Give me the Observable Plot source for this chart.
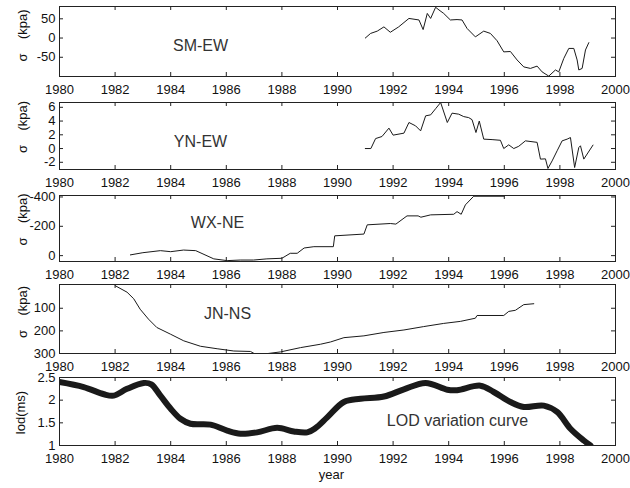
<!DOCTYPE html>
<html><head><meta charset="utf-8">
<script src="https://cdn.jsdelivr.net/npm/d3@7"></script>
<script src="https://cdn.jsdelivr.net/npm/@observablehq/plot@0.6"></script>
<style>
body{margin:0;background:#fff;}
#chart{position:relative;width:630px;height:488px;background:#fff;overflow:hidden;}
#chart svg{position:absolute;left:0;}
</style></head><body><div id="chart"></div>
<script>
const xTicks = [1980,1982,1984,1986,1988,1990,1992,1994,1996,1998,2000];

const smLabel = "SM-EW";
const smYears = [1991.0,1991.19,1991.43,1991.67,1991.9,1992.2,1992.57,1992.93,1993.08,1993.23,1993.35,1993.53,1993.65,1993.82,1994.06,1994.3,1994.48,1994.66,1994.96,1995.26,1995.5,1995.74,1995.98,1996.22,1996.46,1996.7,1996.94,1997.18,1997.36,1997.6,1997.84,1997.96,1998.14,1998.32,1998.5,1998.62,1998.68,1998.8,1998.92,1999.04];
const smValues = [0,12,18,29,15,29,51,47,22,64,51,80,73,64,47,48,47,25,3,18,12,-7,-36,-35,-57,-75,-79,-73,-88,-99,-83,-88,-53,-27,-27,-57,-83,-79,-31,-12];
const smTicks = [-50,0,50];

const ynLabel = "YN-EW";
const ynYears = [1991.0,1991.2,1991.37,1991.6,1991.85,1992.0,1992.39,1992.57,1992.81,1992.99,1993.17,1993.35,1993.53,1993.71,1993.95,1994.12,1994.36,1994.54,1994.72,1994.84,1994.98,1995.1,1995.26,1995.56,1995.86,1995.98,1996.16,1996.34,1996.52,1996.76,1997.18,1997.3,1997.48,1997.57,1997.72,1997.9,1998.08,1998.26,1998.38,1998.53,1998.68,1998.74,1998.86,1999.19];
const ynValues = [0,0,1.45,1.75,2.97,1.95,2.24,3.79,3.3,2.57,4.76,4.9,5.8,6.7,3.79,5.15,5.0,4.65,4.5,4.2,2.33,4.0,1.37,1.3,1.2,0,0.54,0,0.33,1.12,0.9,-1.54,-1.5,-2.9,-1.8,-0.33,1.12,1.37,1.6,-2.76,0.15,0.4,-1.54,0.5];
const ynTicks = [-2,0,2,4,6];

const wxLabel = "WX-NE";
const wxYears = [1982.55,1983.0,1983.63,1984.0,1984.46,1984.9,1985.55,1986.03,1986.5,1986.98,1987.46,1988.0,1988.3,1988.55,1988.8,1989.15,1989.85,1989.9,1990.95,1991.07,1991.9,1992.1,1992.5,1992.9,1993.0,1993.35,1994.18,1994.3,1994.45,1994.6,1994.9,1996.0];
const wxValues = [-5,-20,-34,-27,-38,-34,22,34,30,30,22,18,-16,-16,-52,-61,-61,-135,-147,-210,-219,-215,-271,-271,-262,-278,-282,-300,-282,-346,-405,-405];
const wxTicks = [-400,-200,0];

const jnLabel = "JN-NS";
const jnYears = [1982.0,1982.43,1982.67,1982.9,1983.2,1983.5,1984.0,1984.47,1985.07,1985.67,1986.27,1986.87,1987.0,1987.5,1987.95,1988.67,1989.39,1989.75,1990.23,1990.95,1991.67,1992.39,1993.1,1993.82,1994.42,1994.96,1995.02,1995.98,1996.16,1996.4,1996.7,1997.06];
const jnValues = [0,29,58,104,148,185,215,244,268,279,289,291,300,300,293,274,259,249,230,222,207,196,181,167,158,144,132,132,114,109,84,80];
const jnTicks = [100,200,300];

const lodLabel = "LOD variation curve";
const lodYears = [1980,1980.87,1981.6,1981.95,1982.43,1983.03,1983.3,1983.63,1984.0,1984.35,1984.71,1985.43,1986.03,1986.51,1987.11,1987.83,1988.43,1988.91,1989.2,1989.63,1990.23,1990.83,1991.67,1992.39,1993.17,1993.95,1994.3,1995.14,1995.62,1996.22,1996.7,1997.42,1997.9,1998.38,1998.86,1999.1];
const lodValues = [2.40,2.29,2.13,2.10,2.25,2.38,2.35,2.10,1.81,1.59,1.48,1.46,1.33,1.26,1.29,1.39,1.31,1.29,1.38,1.62,1.96,2.03,2.08,2.24,2.38,2.23,2.22,2.32,2.18,1.96,1.85,1.88,1.74,1.37,1.11,1.0];
const lodTicks = [1,1.5,2,2.5];

const sigmaLabel = "σ\u00a0\u00a0\u00a0\u00a0(kpa)";
const lodAxisLabel = "lod(ms)";
const xAxisLabel = "year";

const ML = 59, MR = 15, W = 630;

function panel(o) {
  const mt = 30, fh = o.frameH, mb = o.mb ?? 28;
  const fw = W - ML - MR;
  const data = o.years.map((x, i) => ({x, y: o.values[i]}));
  const marks = [
    Plot.line(data, {x: "x", y: "y", stroke: "#1a1a1a", strokeWidth: o.sw ?? 1, curve: o.curve ?? "linear", clip: true}),
    Plot.frame({stroke: "#222"}),
    Plot.tickX(xTicks, {x: d => d, insetBottom: fh - 4, stroke: "#222"}),
    Plot.tickX(xTicks, {x: d => d, insetTop: fh - 4, stroke: "#222"}),
    Plot.tickY(o.yTicks, {y: d => d, insetLeft: fw - 4, stroke: "#222"}),
    Plot.tickY(o.yTicks, {y: d => d, insetRight: fw - 4, stroke: "#222"}),
    Plot.axisX(xTicks, {tickSize: 0, tickPadding: 8, tickFormat: d => String(d), label: null}),
    Plot.axisY(o.yTicks, {tickSize: 0, tickPadding: 4, tickFormat: d => String(d), label: null}),
    Plot.text([o.label], {frameAnchor: "middle", text: d => d, dx: o.ldx, dy: o.ldy, fontSize: 16, fill: "#333"}),
    Plot.text([o.ylabel], {frameAnchor: "left", textAnchor: "middle", lineAnchor: "middle", text: d => d, rotate: -90, dx: o.ydx ?? -37, dy: o.ydy, fontSize: 13})
  ];
  if (o.extra) marks.push(...o.extra);
  const p = Plot.plot({
    width: W, height: mt + fh + mb,
    marginLeft: ML, marginRight: MR, marginTop: mt, marginBottom: mb,
    style: {background: "transparent", fontFamily: "'Liberation Sans', Arial, sans-serif", fontSize: "13px", color: "#111", overflow: "visible"},
    x: {domain: [1980, 2000]},
    y: {domain: o.yDomain},
    marks
  });
  p.style.top = (o.frameTop - mt) + "px";
  document.getElementById("chart").append(p);
}

panel({years: smYears, values: smValues, yDomain: [-100, 82], yTicks: smTicks, label: smLabel, ldx: -137, ldy: 4, ylabel: sigmaLabel, ydy: -6, frameTop: 6, frameH: 70});
panel({years: ynYears, values: ynValues, yDomain: [-3.05, 6.7], yTicks: ynTicks, label: ynLabel, ldx: -137, ldy: 6, ylabel: sigmaLabel, ydy: -9, frameTop: 102, frameH: 67});
panel({years: wxYears, values: wxValues, yDomain: [40, -410], yTicks: wxTicks, label: wxLabel, ldx: -120, ldy: -6, ylabel: sigmaLabel, ydy: -9, frameTop: 195, frameH: 66});
panel({years: jnYears, values: jnValues, yDomain: [300, -5], yTicks: jnTicks, label: jnLabel, ldx: -110, ldy: -5, ylabel: sigmaLabel, ydy: -7, frameTop: 284, frameH: 69});
panel({years: lodYears, values: lodValues, yDomain: [1, 2.5], yTicks: lodTicks, label: lodLabel, ldx: 120, ldy: 9, ylabel: lodAxisLabel, ydx: -39, ydy: 1, frameTop: 377, frameH: 68, mb: 43, sw: 6, curve: "catmull-rom",
  extra: [Plot.text([xAxisLabel], {frameAnchor: "bottom", text: d => d, dx: -6, dy: 33, fontSize: 13})]});
</script></body></html>
